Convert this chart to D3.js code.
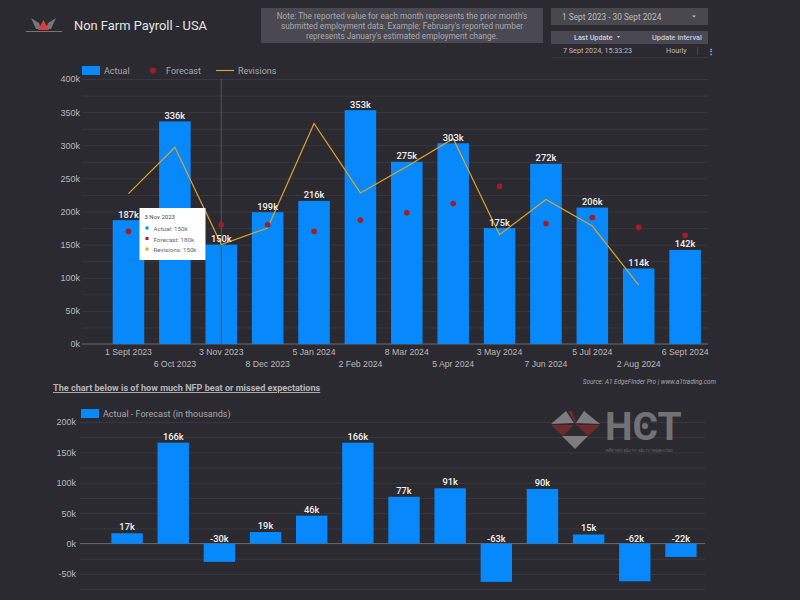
<!DOCTYPE html>
<html>
<head>
<meta charset="utf-8">
<script src="https://cdn.jsdelivr.net/npm/d3@7"></script>
<style>
  html, body { margin: 0; padding: 0; background: #2b2a30; }
  svg { display: block; font-family: Roboto, sans-serif; }
</style>
</head>
<body>
<div id="chart"></div>
<script>
// chart data, values in thousands
const dates = ["1 Sept 2023", "6 Oct 2023", "3 Nov 2023", "8 Dec 2023", "5 Jan 2024", "2 Feb 2024", "8 Mar 2024",
  "5 Apr 2024", "3 May 2024", "7 Jun 2024", "5 Jul 2024", "2 Aug 2024", "6 Sept 2024"];
const actual = [187, 336, 150, 199, 216, 353, 275, 303, 175, 272, 206, 114, 142];
const forecast = [170, 170, 180, 180, 170, 187, 198, 212, 238, 182, 191, 176, 164];
const revisions = [227, 297, 150, 175, 333, 228, 268, 310, 165, 218, 178, 89, null];
const beatMiss = [17, 166, -30, 19, 46, 166, 77, 91, -63, 90, 15, -62, -22];
const topTicks = [0, 50, 100, 150, 200, 250, 300, 350, 400];
const topGrid = [25, 50, 75, 100, 125, 150, 175, 200, 225, 250, 275, 300, 325, 350, 375, 400];
const bottomTicks = [-50, 0, 50, 100, 150, 200];
const bottomGrid = [-75, -50, -25, 25, 50, 75, 100, 125, 150, 175, 200];
const noteLines = ["Note: The reported value for each month represents the prior month's",
  "submitted employment data. Example: February's reported number",
  "represents January's estimated employment change."];
const tooltipLines = ["Actual: 150k", "Forecast: 180k", "Revisions: 150k"];

const blue = "#0788fb", red = "#a51d22", gold = "#dca52a";
const textCol = "#b9b9bb", gridCol = "#38373e";

const svg = d3.select("#chart").append("svg").attr("width", 800).attr("height", 600);
svg.append("rect").attr("width", 800).attr("height", 600).attr("fill", "#2b2a30");

// header
const logo = svg.append("g");
logo.append("path").attr("d", "M31 18 L39 23 L41 29 L36 29 Z M56 18 L48 23 L46 29 L51 29 Z").attr("fill", "#77757c");
logo.append("path").attr("d", "M43.5 20 L49 30 L38 30 Z").attr("fill", "#d8413f");
logo.append("rect").attr("x", 26).attr("y", 31).attr("width", 36).attr("height", 1).attr("fill", "#77757c");

svg.append("text").attr("x", 74).attr("y", 30).attr("font-size", 12.9).attr("fill", "#e4e4e4").text("Non Farm Payroll - USA");

svg.append("rect").attr("x", 261).attr("y", 8).attr("width", 282).attr("height", 35).attr("fill", "#4a4951");
svg.selectAll(".note").data(noteLines).join("text")
  .attr("x", 402).attr("y", (d, i) => 18.5 + i * 10)
  .attr("text-anchor", "middle").attr("font-size", 8.2).attr("fill", "#a9a9ad").text(d => d);

svg.append("rect").attr("x", 551).attr("y", 8).attr("width", 157).attr("height", 17).attr("fill", "#49484d");
svg.append("text").attr("x", 562).attr("y", 19.5).attr("font-size", 8.3).attr("fill", "#bcbcbe").text("1 Sept 2023 - 30 Sept 2024");
svg.append("path").attr("d", "M692 15.5 L696 15.5 L694 17.5 Z").attr("fill", "#c4c4c6");

svg.append("rect").attr("x", 551).attr("y", 31).attr("width", 157).attr("height", 13).attr("fill", "#4a4951");
svg.append("text").attr("x", 574).attr("y", 40).attr("font-size", 7.2).attr("font-weight", 500).attr("fill", "#d0d0dc").text("Last Update");
svg.append("path").attr("d", "M617 36 L620 36 L618.5 38 Z").attr("fill", "#d0d0dc");
svg.append("text").attr("x", 652).attr("y", 40).attr("font-size", 7.4).attr("font-weight", 500).attr("fill", "#c8c8e0").text("Update interval");
svg.append("text").attr("x", 563).attr("y", 53).attr("font-size", 7.2).attr("fill", "#bcbcbe").text("7 Sept 2024, 15:33:23");
svg.append("text").attr("x", 666).attr("y", 53).attr("font-size", 7.2).attr("fill", "#bcbcbe").text("Hourly");
svg.append("line").attr("x1", 697.5).attr("x2", 697.5).attr("y1", 47).attr("y2", 55).attr("stroke", "#45444a");
svg.append("line").attr("x1", 552).attr("x2", 708).attr("y1", 57.5).attr("y2", 57.5).attr("stroke", gridCol);
svg.append("text").attr("x", 707).attr("y", 54).attr("font-size", 8).attr("font-weight", 700).attr("fill", "#c4c4c6").text("⋮");

// top chart scales
const xTop = d3.scaleBand().domain(dates).range([105.3, 708.3]).paddingInner(0.32).paddingOuter(0.16);
const yTop = d3.scaleLinear().domain([0, 400]).range([344, 79]);
const cxTop = d => xTop(d) + xTop.bandwidth() / 2;

// grid every 25k, labels every 50k
svg.append("g").attr("transform", "translate(82,0)")
  .call(d3.axisLeft(yTop).tickValues(topGrid).tickFormat("").tickSize(-626))
  .call(g => g.select(".domain").remove())
  .selectAll("line").attr("stroke", gridCol);

const topAxis = svg.append("g").attr("transform", "translate(82,0)")
  .call(d3.axisLeft(yTop).tickValues(topTicks).tickFormat(d => d + "k").tickSize(0).tickPadding(2));
topAxis.select(".domain").remove();
topAxis.selectAll("text").attr("fill", textCol).attr("font-size", 9);

svg.append("line").attr("x1", 82).attr("x2", 708).attr("y1", yTop(0)).attr("y2", yTop(0)).attr("stroke", "#6b6a70");

svg.selectAll(".bar-top").data(actual).join("rect")
  .attr("x", (d, i) => xTop(dates[i])).attr("y", d => yTop(d))
  .attr("width", xTop.bandwidth()).attr("height", d => yTop(0) - yTop(d))
  .attr("fill", blue);

// x labels staggered over two rows
const xAxisTop = svg.append("g").attr("transform", "translate(0,344)")
  .call(d3.axisBottom(xTop).tickSize(0));
xAxisTop.select(".domain").remove();
xAxisTop.selectAll("text").attr("fill", textCol).attr("font-size", 8.7)
  .attr("y", (d, i) => i % 2 ? 17 : 5).attr("dy", "0.71em");

// hover line on 3 Nov
svg.append("line").attr("x1", cxTop(dates[2])).attr("x2", cxTop(dates[2]))
  .attr("y1", 79).attr("y2", 344).attr("stroke", "#55545a");

const revLine = d3.line().defined(d => d != null)
  .x((d, i) => cxTop(dates[i])).y(d => yTop(d));
svg.append("path").datum(revisions).attr("d", revLine)
  .attr("fill", "none").attr("stroke", gold).attr("stroke-width", 1.2);

svg.selectAll(".dot").data(forecast).join("circle")
  .attr("cx", (d, i) => cxTop(dates[i])).attr("cy", d => yTop(d)).attr("r", 2.8).attr("fill", red);

svg.selectAll(".label-top").data(actual).join("text")
  .attr("x", (d, i) => cxTop(dates[i])).attr("y", d => yTop(d) - 2.5)
  .attr("text-anchor", "middle").attr("font-size", 9.3).attr("font-weight", 500).attr("fill", "#f2f2f2")
  .text(d => d + "k");

// legend top
svg.append("rect").attr("x", 82).attr("y", 66).attr("width", 18).attr("height", 9).attr("fill", blue);
svg.append("text").attr("x", 104).attr("y", 73.5).attr("font-size", 9).attr("fill", "#a8a8aa").text("Actual");
svg.append("circle").attr("cx", 153).attr("cy", 70.5).attr("r", 3).attr("fill", red);
svg.append("text").attr("x", 166).attr("y", 73.5).attr("font-size", 9).attr("fill", "#a8a8aa").text("Forecast");
svg.append("line").attr("x1", 216).attr("x2", 234).attr("y1", 70.5).attr("y2", 70.5).attr("stroke", gold).attr("stroke-width", 1.2);
svg.append("text").attr("x", 238).attr("y", 73.5).attr("font-size", 9).attr("fill", "#a8a8aa").text("Revisions");

// tooltip
const tip = svg.append("g").attr("transform", "translate(139.5,208)");
tip.append("rect").attr("width", 66).attr("height", 52).attr("fill", "#fff");
tip.append("text").attr("x", 5).attr("y", 11).attr("font-size", 6).attr("fill", "#444").text(dates[2]);
tip.selectAll(".tip-row").data(tooltipLines).join("text")
  .attr("x", 14).attr("y", (d, i) => 23 + i * 10.5).attr("font-size", 6.2).attr("fill", "#666").text(d => d);
tip.selectAll(".tip-key").data([blue, red, gold]).join("rect")
  .attr("x", 6).attr("y", (d, i) => 18.5 + i * 10.5).attr("width", 3).attr("height", 3).attr("fill", d => d);

// source + subtitle
svg.append("text").attr("x", 716).attr("y", 384).attr("text-anchor", "end").attr("font-size", 6.4)
  .attr("font-style", "italic").attr("fill", "#a8a8aa").text("Source: A1 EdgeFinder Pro | www.a1trading.com");
svg.append("text").attr("x", 53).attr("y", 391).attr("font-size", 9.1).attr("font-weight", 700)
  .attr("text-decoration", "underline").attr("fill", "#b4b4b6").text("The chart below is of how much NFP beat or missed expectations");

// bottom chart
const xBottom = d3.scaleBand().domain(dates).range([104, 704]).paddingInner(0.32).paddingOuter(0.16);
const yBottom = d3.scaleLinear().domain([-50, 200]).range([574, 422]);
const cxBottom = d => xBottom(d) + xBottom.bandwidth() / 2;

svg.append("g").attr("transform", "translate(80,0)")
  .call(d3.axisLeft(yBottom).tickValues(bottomGrid).tickFormat("").tickSize(-625))
  .call(g => g.select(".domain").remove())
  .selectAll("line").attr("stroke", gridCol);

const bottomAxis = svg.append("g").attr("transform", "translate(80,0)")
  .call(d3.axisLeft(yBottom).tickValues(bottomTicks).tickFormat(d => d + "k").tickSize(0).tickPadding(4));
bottomAxis.select(".domain").remove();
bottomAxis.selectAll("text").attr("fill", textCol).attr("font-size", 9);

svg.append("line").attr("x1", 80).attr("x2", 705).attr("y1", yBottom(0)).attr("y2", yBottom(0)).attr("stroke", "#6b6a70");

svg.append("rect").attr("x", 81).attr("y", 409).attr("width", 18).attr("height", 9).attr("fill", blue);
svg.append("text").attr("x", 103).attr("y", 416.5).attr("font-size", 9).attr("fill", "#a8a8aa").text("Actual - Forecast (in thousands)");

// watermark behind bars
const wm = svg.append("g");
wm.append("path").attr("d", "M568 411 L586 411 L577 426 Z M584 411 L572 411 L578 426 Z").attr("fill", "#6e2a2c");
wm.append("path").attr("d", "M566 411 L574 423 L551 424 Z M584 411 L576 423 L600 424 Z").attr("fill", "#7d7d80");
wm.append("path").attr("d", "M551 425 L574 425 L563 436 Z M600 425 L577 425 L588 436 Z").attr("fill", "#6e2a2c");
wm.append("path").attr("d", "M562 436 L588 436 L575 449 Z").attr("fill", "#7d7d80");
svg.append("text").attr("x", 605).attr("y", 440).attr("font-size", 39).attr("font-weight", 700)
  .attr("fill", "#727275").text("HCT");
svg.append("circle").attr("cx", 645).attr("cy", 426).attr("r", 3).attr("fill", "#727275");
svg.append("text").attr("x", 606).attr("y", 452).attr("font-size", 3.4).attr("fill", "#6a6a6d").text("KIẾN THỨC ĐẦU TƯ - ĐẦU TƯ THÀNH CÔNG");

svg.selectAll(".bar-bottom").data(beatMiss).join("rect")
  .attr("x", (d, i) => xBottom(dates[i]))
  .attr("y", d => yBottom(Math.max(d, 0)))
  .attr("width", xBottom.bandwidth())
  .attr("height", d => Math.abs(yBottom(d) - yBottom(0)))
  .attr("fill", blue);

svg.selectAll(".label-bottom").data(beatMiss).join("text")
  .attr("x", (d, i) => cxBottom(dates[i]))
  .attr("y", d => d >= 0 ? yBottom(d) - 3 : yBottom(0) - 2)
  .attr("text-anchor", "middle").attr("font-size", 9.3).attr("font-weight", 500).attr("fill", "#f2f2f2")
  .text(d => d + "k");
</script>
</body>
</html>
